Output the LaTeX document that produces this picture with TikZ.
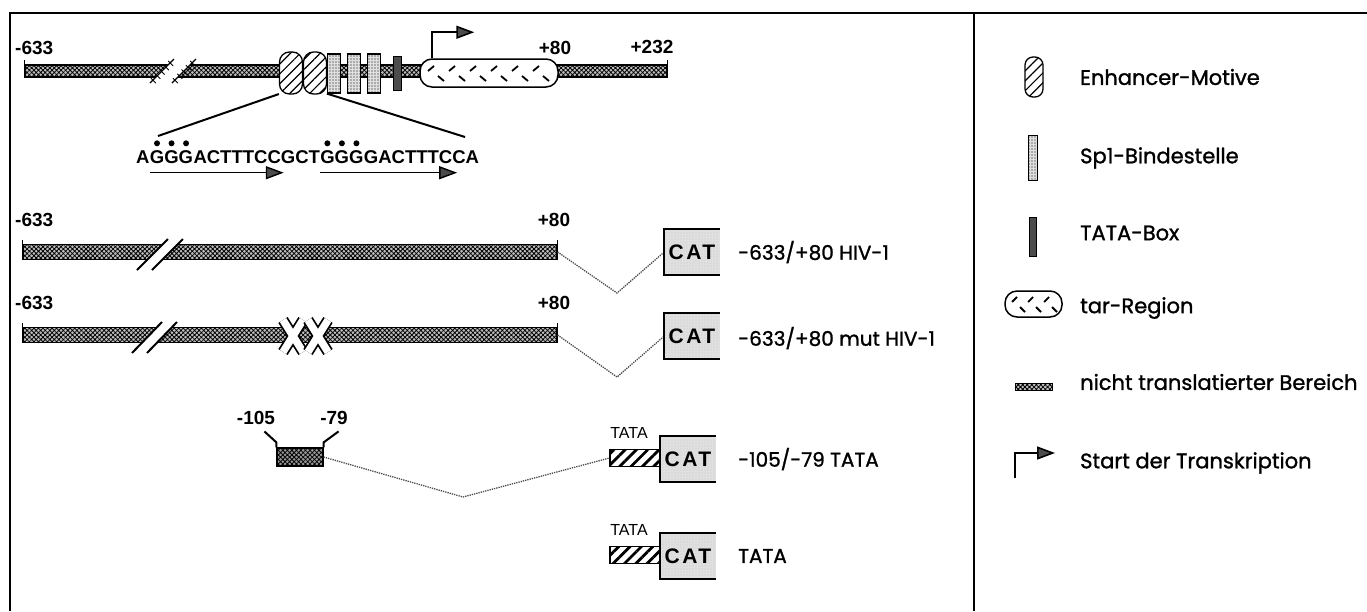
\documentclass[tikz,border=0pt]{standalone}
\usepackage{fontspec}
\setmainfont{Poppins}
\newfontfamily\futura[FakeBold=1.3]{Poppins}
\newfontfamily\helv{Liberation Sans}
\newfontfamily\helvsp[LetterSpace=12]{Liberation Sans}
\usetikzlibrary{positioning,arrows.meta,patterns.meta,calc}

\tikzset{
  framelin/.style={line width=1.5pt},
  utr/.style={draw, line width=1.2pt, fill=black!25, inner sep=0pt, minimum height=15pt,
    postaction={pattern={Hatch[angle=45,distance=3.2pt,line width=0.8pt]}}},
  enhancer/.style={draw, line width=1.3pt, rounded corners=10pt, fill=white,
    postaction={pattern={Lines[angle=45,distance=7pt,line width=1.2pt]}},
    minimum width=23pt, minimum height=42pt, inner sep=0pt},
  sponebox/.style={draw, line width=1.2pt, fill=black!12, minimum width=13pt, minimum height=39pt, inner sep=0pt,
    postaction={pattern={Dots[distance=3pt,radius=0.6pt]}}},
  tatabox/.style={draw, line width=1pt, fill=black!70, minimum width=8pt, minimum height=34pt, inner sep=0pt},
  tarbox/.style={draw, line width=1.5pt, rounded corners=12pt, fill=white, minimum width=138pt, minimum height=28pt, inner sep=0pt},
  tardash/.style={line width=1.8pt},
  startarr/.style={line width=1.6pt, -{Triangle[length=18pt,width=13pt,fill=black!70]}},
  seqarr/.style={line width=1.4pt, -{Triangle[length=18pt,width=13pt,fill=black!70]}},
  zoomln/.style={line width=2pt},
  brk/.style={line width=2pt},
  splice/.style={densely dotted, line width=1.3pt, black!70},
  numlab/.style={font=\helv\bfseries\fontsize{19}{19}\selectfont, inner sep=0pt},
  seqtxt/.style={font=\helv\bfseries\fontsize{18.5}{18.5}\selectfont, inner sep=0pt, text height=13pt, text depth=0pt},
  catbox/.style={fill=black!12, minimum width=55pt, minimum height=45pt, inner sep=0pt, font=\helvsp\bfseries\fontsize{21}{21}\selectfont,
    postaction={pattern={Dots[distance=3pt,radius=0.45pt]}, pattern color=black!40}},
  catedge/.style={line width=1.8pt},
  tatahatch/.style={draw, line width=1.2pt, fill=white,
    postaction={pattern={Lines[angle=45,distance=8pt,line width=2.8pt]}},
    minimum width=51pt, minimum height=17pt, inner sep=0pt},
  tatalab/.style={font=\helv\fontsize{16}{16}\selectfont, inner sep=0pt},
  construct/.style={font=\futura\fontsize{20}{20}\selectfont, inner sep=0pt, anchor=west},
  legtxt/.style={font=\futura\fontsize{21}{21}\selectfont, inner sep=0pt, anchor=west}
}

\begin{document}
\begin{tikzpicture}[x=1pt,y=-1pt]
\useasboundingbox (0,0) rectangle (1367,611);
% frame
\draw[framelin] (10,611) -- (10,13) -- (1367,13);
\draw[framelin] (974,13) -- (974,611);

% HIV-1 LTR
\node[utr, minimum width=642pt, minimum height=12pt] (ltr) at (346,71) {};
\draw[line width=1.2pt] (ltr.south west) -- ([yshift=4pt]ltr.north west);
\draw[line width=1.2pt] (ltr.south east) -- ([yshift=4pt]ltr.north east);
\fill[white] (150,84) -- (174,58) -- (196,58) -- (172,84) -- cycle;
\foreach \s in {0,22} {
  \draw[line width=1.4pt] (150+\s,83) -- (174+\s,59);
  \foreach \t in {0.12,0.3,...,0.9}
    \draw[line width=0.9pt] ($(150+\s,83)!\t!(174+\s,59)$) ++(-2,-2) -- ++(5,5);
}
\node[enhancer] (enh1) at (291,73) {};
\node[enhancer] (enh2) at (315,73) {};
\foreach \x [count=\i] in {334,354,374}
  \node[sponebox] (sp\i) at (\x,73.5) {};
\node[tatabox] (tata) at (397,73) {};
\node[tarbox] (tar) at (489,73) {};
\foreach \k in {0,...,5} {
  \draw[tardash] (428+21*\k,71) -- ++(6,-5);
  \draw[tardash] (438+21*\k,76) -- ++(6,5);
}
\draw[startarr] ([xshift=13pt]tar.north west) -- ++(0,-26) -- ++(42,0);
\node[numlab, anchor=west] (l633) at (15,48) {-633};
\node[numlab] (l80) at (555,48) {+80};
\node[numlab] (l232) at (652,47) {+232};

% Sequenz
\node[seqtxt, anchor=west] (s1) at (136,157) {A};
\node[seqtxt, right=0pt of s1] (s2) {GGG};
\node[seqtxt, right=0pt of s2] (s3) {ACTTTCCGCT};
\node[seqtxt, right=0pt of s3] (s4) {GGG};
\node[seqtxt, right=0pt of s4] (s5) {GACTTTCCA};
\foreach \g in {s2,s4}
  \foreach \i in {1,2,3}
    \fill ($(\g.north west)!{(\i-0.5)/3}!(\g.north east)$) ++(0,-7) circle (3);
\draw[seqarr] ([yshift=-9pt]s2.south west) -- ++(134,0);
\draw[seqarr] ([yshift=-9pt]s4.south west) -- ++(137,0);
\coordinate (zl) at (158,136);
\coordinate (zr) at (465,137);
\draw[zoomln] (enh1.240) -- (zl);
\draw[zoomln] (sp1.south west) -- (zr);

% -633/+80 HIV-1
\node[utr, minimum width=534pt] (bar2) at (290,252) {};
\draw[line width=1.2pt] (bar2.south west) -- ([yshift=4pt]bar2.north west);
\draw[line width=1.2pt] (bar2.south east) -- ([yshift=4pt]bar2.north east);
\fill[white] (137,270) -- (168,239) -- (183,239) -- (152,270) -- cycle;
\draw[brk] (137,270) -- (168,239);
\draw[brk] (152,270) -- (183,239);
\node[numlab, anchor=west] (m2) at (15,220) {-633};
\node[numlab] (p2) at (554,220) {+80};
\node[catbox] (cat2) at (692,252) {CAT};
\coordinate (v2) at (617,293);
\draw[splice] (bar2.east) -- (v2) -- (cat2.west);
\node[construct] (c2) at (738,252) {-633/+80 HIV-1};

% -633/+80 mut HIV-1
\node[utr, minimum width=534pt] (bar3) at (290,335) {};
\draw[line width=1.2pt] (bar3.south west) -- ([yshift=4pt]bar3.north west);
\draw[line width=1.2pt] (bar3.south east) -- ([yshift=4pt]bar3.north east);
\fill[white] (132,353) -- (162,322) -- (177,322) -- (147,353) -- cycle;
\draw[brk] (132,353) -- (162,322);
\draw[brk] (147,353) -- (177,322);
\foreach \cx in {293,318} {
  \draw[line width=11pt] (\cx-10,320) -- (\cx+10,352) (\cx+10,320) -- (\cx-10,352);
  \draw[line width=7.5pt, white] (\cx-10,320) -- (\cx+10,352) (\cx+10,320) -- (\cx-10,352);
}
\node[numlab, anchor=west] (m3) at (15,303) {-633};
\node[numlab] (p3) at (554,303) {+80};
\node[catbox] (cat3) at (692,336) {CAT};
\coordinate (v3) at (617,377);
\draw[splice] (bar3.east) -- (v3) -- (cat3.west);
\node[construct] (c3) at (738,338) {-633/+80 mut HIV-1};

% -105/-79 TATA
\node[utr, minimum width=46pt, minimum height=18pt, fill=black!40] (frag) at (300,457) {};
\draw[line width=2pt] (frag.north west) -- ++(0,-5) -- ++(-12,-11);
\draw[line width=2pt] (frag.north east) -- ++(0,-5) -- ++(15,-11);
\node[numlab] (f105) at (256,418) {-105};
\node[numlab] (f79) at (334,418) {-79};
\node[tatahatch] (th4) at (635.5,458) {};
\node[tatalab] (tl4) at (629,433) {TATA};
\node[catbox] (cat4) at (688,459) {CAT};
\coordinate (v4) at (463,497);
\draw[splice] (frag.east) -- (v4) -- (th4.west);
\node[construct] (c4) at (738,459) {-105/-79 TATA};

% TATA
\node[tatahatch] (th5) at (635.5,555) {};
\node[tatalab] (tl5) at (629,530) {TATA};
\node[catbox] (cat5) at (688,556) {CAT};
\node[construct] (c5) at (738,556) {TATA};

\foreach \c in {cat2,cat3,cat4,cat5}
  \draw[catedge] (\c.north east) -- (\c.north west) -- (\c.south west) -- (\c.south east);

% Legende
\node[enhancer, minimum width=18pt, minimum height=40pt, rounded corners=8pt] (k1) at (1034,77) {};
\node[legtxt] (t1) at (1080,77) {Enhancer-Motive};
\node[sponebox, minimum width=9pt, minimum height=45pt] (k2) at (1033,158) {};
\node[legtxt] (t2) at (1080,158) {Sp1-Bindestelle};
\node[tatabox, minimum width=7pt, minimum height=39pt] (k3) at (1033,237) {};
\node[legtxt] (t3) at (1080,233) {TATA-Box};
\node[tarbox, minimum width=57pt, minimum height=26pt] (k4) at (1033.5,304) {};
\foreach \k in {0,1,2} {
  \draw[tardash] (1012+16*\k,302) -- ++(5,-5);
  \draw[tardash] (1020+16*\k,307) -- ++(5,5);
}
\node[legtxt] (t4) at (1080,308) {tar-Region};
\node[utr, minimum width=37pt, minimum height=7pt, line width=1pt] (k5) at (1033.5,387) {};
\node[legtxt] (t5) at (1080,382) {nicht translatierter Bereich};
\coordinate (k6) at (1015,478);
\draw[startarr] (k6) -- ++(0,-25) -- ++(40,0);
\node[legtxt] (t6) at (1080,463) {Start der Transkription};
\end{tikzpicture}
\end{document}
